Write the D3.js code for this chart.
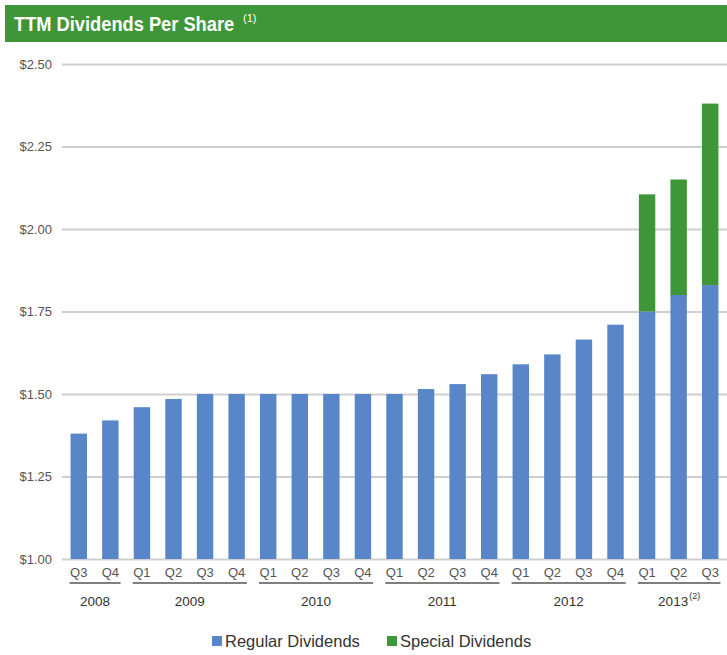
<!DOCTYPE html>
<html>
<head>
<meta charset="utf-8">
<script src="https://cdn.jsdelivr.net/npm/d3@7/dist/d3.min.js"></script>
<style>
  html, body { margin: 0; padding: 0; background: #fff; }
  svg { display: block; }
  text { font-family: "Liberation Sans", Arial, sans-serif; }
</style>
</head>
<body>
<svg id="chart" width="727" height="655"></svg>
<script>
// Trailing-twelve-month dividends per share, by quarter
const quarters = ["Q3","Q4","Q1","Q2","Q3","Q4","Q1","Q2","Q3","Q4","Q1","Q2","Q3","Q4","Q1","Q2","Q3","Q4","Q1","Q2","Q3"];
const years    = ["2008","2008","2009","2009","2009","2009","2010","2010","2010","2010","2011","2011","2011","2011","2012","2012","2012","2012","2013","2013","2013"];
const regular  = [1.38,1.42,1.46,1.485,1.50,1.50,1.50,1.50,1.50,1.50,1.50,1.515,1.53,1.56,1.59,1.62,1.665,1.71,1.75,1.80,1.83];
const special  = [0,0,0,0,0,0,0,0,0,0,0,0,0,0,0,0,0,0,0.355,0.35,0.55];
const yTicks   = [1.00,1.25,1.50,1.75,2.00,2.25,2.50];
const yearNotes = { "2013": "(2)" };
const seriesNames = ["Regular Dividends","Special Dividends"];

const colors = { regular: "#5986c8", special: "#3e9639", header: "#3f9638", grid: "#cfcfcf", axisText: "#555" };

const svg = d3.select("#chart");

// Header band with a condensed title
svg.append("rect").attr("x", 5).attr("y", 5).attr("width", 722).attr("height", 37).attr("fill", colors.header);
svg.append("text").attr("transform", "translate(14,31) scale(0.87,1)")
  .attr("fill", "#fff").style("font-size", "21px").style("font-weight", "bold")
  .text("TTM Dividends Per Share");
svg.append("text").attr("x", 243).attr("y", 22)
  .attr("fill", "#fff").style("font-size", "11px")
  .text("(1)");

// Scales; the value axis starts at $1.00, so stack segments below it are clamped to the floor
const x = d3.scaleBand().domain(d3.range(quarters.length)).range([63, 726]).paddingInner(0.48).paddingOuter(0.24);
const y = d3.scaleLinear().domain([1, 2.5]).range([559, 64]).clamp(true);

// Gridlines and y labels
const yAxis = d3.axisLeft(y).tickValues(yTicks).tickSize(-(727 - 62)).tickPadding(10).tickFormat(d3.format("$.2f"));
const gy = svg.append("g").attr("transform", "translate(62,0)").call(yAxis);
gy.select(".domain").remove();
gy.selectAll(".tick line").attr("stroke", colors.grid).attr("stroke-width", 2);
gy.selectAll(".tick text").attr("fill", colors.axisText).style("font-size", "13px").attr("font-family", null);

// Stacked bars
const rows = quarters.map((q, i) => ({ i, regular: regular[i], special: special[i] }));
const stacked = d3.stack().keys(["regular", "special"])(rows);

svg.append("g").selectAll("g").data(stacked).join("g")
  .attr("fill", d => colors[d.key])
  .selectAll("rect").data(d => d.filter(s => s[1] > s[0])).join("rect")
  .attr("x", d => x(d.data.i))
  .attr("width", x.bandwidth())
  .attr("y", d => y(d[1]))
  .attr("height", d => Math.max(0, y(d[0]) - y(d[1])));

// Quarter labels
svg.append("g").selectAll("text").data(quarters).join("text")
  .attr("x", (d, i) => x(i) + x.bandwidth() / 2)
  .attr("y", 577)
  .attr("text-anchor", "middle")
  .attr("fill", colors.axisText)
  .style("font-size", "13px")
  .text(d => d);

// Year groups: underline and label
const yearGroups = d3.groups(years.map((yr, i) => ({ yr, i })), d => d.yr);
const yg = svg.append("g");
yearGroups.forEach(([yr, items]) => {
  const x0 = x(items[0].i) - 1;
  const x1 = x(items[items.length - 1].i) + x.bandwidth() + 2;
  yg.append("line").attr("x1", x0).attr("x2", x1).attr("y1", 583).attr("y2", 583)
    .attr("stroke", "#7f7f7f").attr("stroke-width", 2);
  const t = yg.append("text").attr("x", (x0 + x1) / 2).attr("y", 606)
    .attr("text-anchor", "middle").attr("fill", "#333").style("font-size", "13.5px");
  t.append("tspan").text(yr);
  if (yearNotes[yr]) {
    t.append("tspan").attr("dx", 1).attr("dy", -7).style("font-size", "9px").text(yearNotes[yr]);
  }
});

// Legend
const legendItems = [
  { name: seriesNames[0], color: colors.regular, x: 212 },
  { name: seriesNames[1], color: colors.special, x: 387 }
];
const lg = svg.append("g");
legendItems.forEach(it => {
  lg.append("rect").attr("x", it.x).attr("y", 636).attr("width", 10).attr("height", 10).attr("fill", it.color);
  lg.append("text").attr("x", it.x + 13).attr("y", 647).attr("fill", "#333").style("font-size", "16.5px").text(it.name);
});
</script>
</body>
</html>
